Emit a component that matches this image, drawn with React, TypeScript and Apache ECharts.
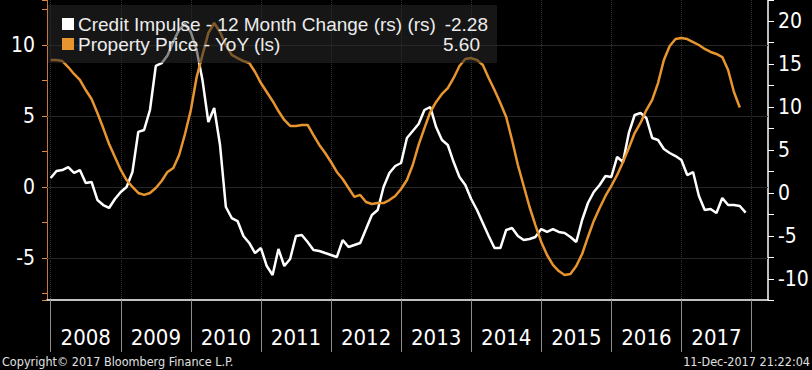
import { useEffect, useRef } from 'react';
import * as echarts from 'echarts';

const years = ['2008', '2009', '2010', '2011', '2012', '2013', '2014', '2015', '2016', '2017'];

// Credit Impulse - 12 Month Change (right scale), monthly Jan 2008 - Dec 2017
const creditImpulse = [
  1.74, 2.56, 2.67, 3.02, 2.33, 2.67, 1.16, 1.28, -0.81, -1.40,
  -1.74, -0.70, 0.12, 0.70, 2.44, 7.1, 7.33, 9.65, 14.77, 15.1,
  16.0, 17.6, 19.0, 19.65, 18.7, 16.6, 13.1, 8.26, 9.88, 5.58,
  -1.63, -2.91, -3.26, -5.0, -5.81, -6.98, -6.40, -8.49, -9.53, -6.51,
  -8.49, -7.67, -5.0, -4.88, -5.70, -6.63, -6.74, -6.98, -7.21, -7.44,
  -5.47, -6.28, -6.05, -5.81, -4.19, -2.56, -1.98, 0.70, 2.33, 3.14,
  3.49, 6.40, 7.21, 8.02, 9.65, 10.0, 7.67, 6.16, 5.58, 3.60,
  1.86, 0.93, -0.70, -1.98, -3.49, -5.0, -6.40, -6.40, -4.30, -4.07,
  -5.0, -5.47, -5.35, -5.12, -4.19, -4.53, -4.19, -4.53, -4.65, -5.12,
  -5.70, -3.14, -1.16, 0.12, 0.93, 1.98, 1.86, 4.19, 3.60, 6.98,
  9.07, 9.30, 8.72, 6.40, 6.16, 5.12, 4.65, 4.30, 3.84, 2.09,
  2.44, -0.35, -1.98, -1.86, -2.33, -0.58, -1.40, -1.40, -1.51, -2.28,
];

// Property Price - YoY (left scale), monthly Jan 2008 - Nov 2017
const propertyPrice = [
  8.94, 8.94, 8.87, 8.45, 7.96, 7.54, 6.83, 6.20, 5.21, 4.15,
  3.03, 2.11, 1.20, 0.49, 0.0, -0.42, -0.56, -0.42, -0.07, 0.42,
  1.06, 1.34, 2.25, 3.73, 5.42, 7.75, 9.30, 10.85, 11.55, 10.92,
  10.0, 9.30, 9.08, 8.87, 8.73, 8.10, 7.32, 6.69, 6.06, 5.35,
  4.72, 4.30, 4.30, 4.37, 4.37, 3.66, 2.96, 2.39, 1.76, 1.06,
  0.56, -0.07, -0.70, -0.56, -1.06, -1.20, -1.13, -1.13, -0.92, -0.63,
  -0.14, 0.49, 1.55, 2.96, 4.15, 5.28, 5.99, 6.55, 6.97, 7.68,
  8.52, 9.01, 9.08, 8.94, 8.59, 7.68, 6.83, 5.92, 4.93, 3.31,
  1.55, 0.07, -1.41, -2.68, -3.87, -4.79, -5.49, -5.92, -6.20, -6.13,
  -5.56, -4.72, -3.52, -2.39, -1.48, -0.63, 0.07, 0.85, 1.76, 2.75,
  3.80, 4.51, 5.42, 6.13, 7.32, 8.94, 9.93, 10.42, 10.49, 10.42,
  10.21, 10.0, 9.72, 9.51, 9.37, 9.15, 8.24, 6.69, 5.60,
];

const gridValues = [10, 5, 0, -5];
const legendNames = ['Credit Impulse - 12 Month Change (rs) (rs)', 'Property Price - YoY (ls)'];
const lastValues = ['-2.28', '5.60'];
const copyright = 'Copyright\u00A9 2017 Bloomberg Finance L.P.';
const timestamp = '11-Dec-2017 21:22:04';

const NARROW = "'Liberation Sans Narrow', 'DejaVu Sans Condensed', 'Arial Narrow', sans-serif";
const REG = "'Liberation Sans', Arial, sans-serif";
const ORANGE = '#e8952f';

export default function App() {
  const ref = useRef<HTMLDivElement>(null);
  useEffect(() => {
    const chart = echarts.init(ref.current as HTMLDivElement, null, { renderer: 'svg' });
    const fmt = (v: number) => (Math.abs(v % 5) < 1e-6 ? String(Math.round(v)) : '');
    chart.setOption({
      animation: false,
      backgroundColor: '#000',
      grid: [
        { left: 47, right: 44, top: 0, bottom: 70 },
        { left: 50.7, right: 60.5, top: 0, bottom: 70 },
      ],
      xAxis: [
        {
          type: 'value', gridIndex: 0, min: -0.63, max: 122.83,
          axisLine: { show: true, onZero: false, lineStyle: { color: '#fff', width: 1.5 } },
          axisTick: { show: false }, axisLabel: { show: false }, splitLine: { show: false },
        },
        {
          type: 'category', gridIndex: 1, data: years, boundaryGap: true, position: 'bottom',
          axisLine: { show: false, onZero: false },
          axisTick: { show: true, interval: 0, length: 52, lineStyle: { color: '#8c8c8c', width: 1 } },
          axisLabel: { interval: 0, color: '#fff', fontSize: 22, fontFamily: NARROW, margin: 26 },
          splitLine: { show: true, interval: 0, lineStyle: { color: '#333', type: 'dotted', width: 1 } },
        },
      ],
      yAxis: [
        {
          type: 'value', gridIndex: 0, position: 'left', min: -7.96, max: 13.17,
          minInterval: 2.5, maxInterval: 2.5,
          axisLine: { show: true, onZero: false, lineStyle: { color: '#c8773a', width: 1 } },
          axisTick: { show: true, length: 5, lineStyle: { color: '#d98a45' } },
          axisLabel: { formatter: fmt, color: '#fff', fontSize: 21, fontFamily: NARROW, margin: 12 },
          splitLine: { show: false },
        },
        {
          type: 'value', gridIndex: 0, position: 'right', min: -12.44, max: 22.44,
          minInterval: 2.5, maxInterval: 2.5,
          axisLine: { show: true, onZero: false, lineStyle: { color: '#fff', width: 1.5 } },
          axisTick: { show: true, length: 6, lineStyle: { color: '#fff' } },
          axisLabel: { formatter: fmt, color: '#fff', fontSize: 21, fontFamily: NARROW, margin: 10 },
          splitLine: { show: false },
        },
        { type: 'value', gridIndex: 1, min: 0, max: 1, show: false },
      ],
      series: [
        {
          name: legendNames[0], type: 'line', xAxisIndex: 0, yAxisIndex: 1,
          data: creditImpulse.map((v, i) => [i, v]),
          showSymbol: false, symbol: 'none',
          lineStyle: { color: '#fff', width: 2.5 },
        },
        {
          name: legendNames[1], type: 'line', xAxisIndex: 0, yAxisIndex: 0,
          data: propertyPrice.map((v, i) => [i, v]),
          showSymbol: false, symbol: 'none',
          lineStyle: { color: ORANGE, width: 2.5 },
          markLine: {
            silent: true, z: 1, symbol: ['none', 'none'], label: { show: false },
            lineStyle: { color: '#262626', type: 'solid', width: 1 },
            data: gridValues.map((v) => ({ yAxis: v })),
          },
        },
      ],
      graphic: [
        { type: 'rect', z: 100, shape: { x: 48, y: 5, width: 449, height: 58 }, style: { fill: 'rgba(40,40,40,0.55)' } },
        { type: 'rect', z: 101, shape: { x: 62, y: 18, width: 12, height: 12 }, style: { fill: '#fff' } },
        { type: 'rect', z: 101, shape: { x: 62, y: 38, width: 12, height: 12 }, style: { fill: ORANGE } },
        { type: 'text', z: 101, x: 78, y: 24, style: { text: legendNames[0], fill: '#ececec', font: `19px ${REG}`, verticalAlign: 'middle' } },
        { type: 'text', z: 101, x: 78, y: 44, style: { text: legendNames[1], fill: '#ececec', font: `19px ${REG}`, verticalAlign: 'middle' } },
        { type: 'text', z: 101, x: 488, y: 24, style: { text: lastValues[0], fill: '#ececec', font: `19px ${REG}`, align: 'right', verticalAlign: 'middle' } },
        { type: 'text', z: 101, x: 480, y: 44, style: { text: lastValues[1], fill: '#ececec', font: `19px ${REG}`, align: 'right', verticalAlign: 'middle' } },
        { type: 'text', z: 101, x: 2, y: 361, style: { text: copyright, fill: '#e0e0e0', font: `12.5px ${NARROW}`, verticalAlign: 'middle' } },
        { type: 'text', z: 101, x: 810, y: 361, style: { text: timestamp, fill: '#e0e0e0', font: `12.5px ${NARROW}`, align: 'right', verticalAlign: 'middle' } },
      ],
    });
    return () => chart.dispose();
  }, []);
  return <div ref={ref} style={{ position: 'fixed', left: 0, top: 0, width: 812, height: 370 }} />;
}
